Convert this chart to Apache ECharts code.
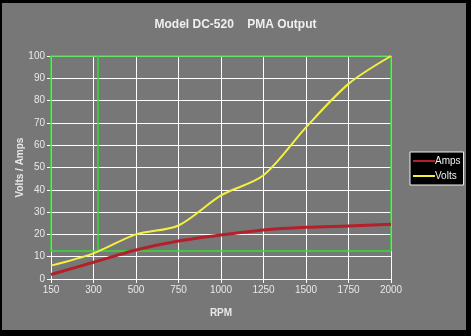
<!DOCTYPE html>
<html>
<head>
<meta charset="utf-8">
<script src="https://cdn.jsdelivr.net/npm/echarts@6/dist/echarts.min.js"></script>
<style>
  html, body { margin: 0; padding: 0; background: #000; }
  #panel { position: absolute; left: 2px; top: 3px; width: 464px; height: 327px; background: #777777; }
  #chart { position: absolute; left: 0; top: 0; width: 471px; height: 336px; }
</style>
</head>
<body>
<div id="panel"></div>
<div id="chart"></div>
<script>
// RPM categories along the x axis
const rpmLabels = ['150', '300', '500', '750', '1000', '1250', '1500', '1750', '2000'];
// Output current and voltage at each RPM step
const amps  = [2, 7.5, 13, 17, 19.7, 22, 23.2, 23.8, 24.5];
const volts = [6, 11.5, 20, 24, 37.5, 46.5, 68, 87.5, 100];
// Green reference frame: lower/upper levels and vertical positions (category index units)
const frameLow = 12.5;
const frameHigh = 100;
const frameXs = [0, 1.11, 8];

const pairs = vals => vals.map((v, i) => [i, v]);

const frameLines = [
  [{ coord: [frameXs[0], frameLow] }, { coord: [frameXs[2], frameLow] }],
  [{ coord: [frameXs[0], frameHigh] }, { coord: [frameXs[2], frameHigh] }]
].concat(frameXs.map(x => [{ coord: [x, frameLow] }, { coord: [x, frameHigh] }]));

const txt = '#e8e8e8';
const font = '"Liberation Sans", Arial, sans-serif';

const chart = echarts.init(document.getElementById('chart'));
chart.setOption({
  backgroundColor: 'transparent',
  animation: false,
  textStyle: { fontFamily: font },
  title: {
    text: 'Model DC-520    PMA Output',
    left: 'center',
    top: 14,
    textStyle: { color: '#f0f0f0', fontSize: 12, fontWeight: 'bold', fontFamily: font }
  },
  legend: {
    orient: 'vertical',
    left: 410,
    top: 152,
    backgroundColor: '#000',
    borderColor: '#f0f0f0',
    borderWidth: 1,
    borderRadius: 0,
    padding: [4, 3, 4, 3],
    icon: 'rect',
    itemWidth: 22,
    itemHeight: 2,
    itemGap: 5,
    textStyle: { color: '#f0f0f0', fontSize: 10, padding: [0, 0, 0, -5] },
    data: ['Amps', 'Volts']
  },
  grid: { left: 51, right: 80, top: 56, bottom: 57, containLabel: false },
  xAxis: {
    type: 'value',
    min: 0,
    max: 8,
    interval: 1,
    name: 'RPM',
    nameLocation: 'middle',
    nameGap: 29,
    nameMoveOverlap: false,
    nameTextStyle: { color: txt, fontSize: 10, fontWeight: 'bold' },
    axisLine: { lineStyle: { color: '#ffffff', width: 1 } },
    axisTick: { show: true, length: 4, lineStyle: { color: '#ffffff' } },
    axisLabel: { color: txt, fontSize: 10, margin: 6, formatter: v => rpmLabels[v] },
    splitLine: { show: true, lineStyle: { color: '#ffffff', width: 1 } }
  },
  yAxis: {
    type: 'value',
    min: 0,
    max: 100,
    interval: 10,
    name: 'Volts / Amps',
    nameLocation: 'middle',
    nameGap: 26,
    nameMoveOverlap: false,
    nameTextStyle: { color: txt, fontSize: 10, fontWeight: 'bold' },
    axisLine: { show: true, lineStyle: { color: '#ffffff', width: 1 } },
    axisTick: { show: true, length: 4, lineStyle: { color: '#ffffff' } },
    axisLabel: { color: txt, fontSize: 10, margin: 6 },
    splitLine: { show: true, lineStyle: { color: '#ffffff', width: 1 } }
  },
  series: [
    {
      name: 'Amps',
      type: 'line',
      data: pairs(amps),
      smooth: 0.3,
      symbol: 'none',
      color: '#b3202a',
      lineStyle: { color: '#b3202a', width: 3 },
      z: 3,
      markLine: {
        silent: true,
        symbol: 'none',
        label: { show: false },
        lineStyle: { color: '#33dd33', width: 1.5, type: 'solid' },
        data: frameLines,
        z: 2
      }
    },
    {
      name: 'Volts',
      type: 'line',
      data: pairs(volts),
      smooth: 0.3,
      symbol: 'none',
      color: '#f4f040',
      lineStyle: { color: '#f4f040', width: 2 },
      z: 4
    }
  ]
});
</script>
</body>
</html>
